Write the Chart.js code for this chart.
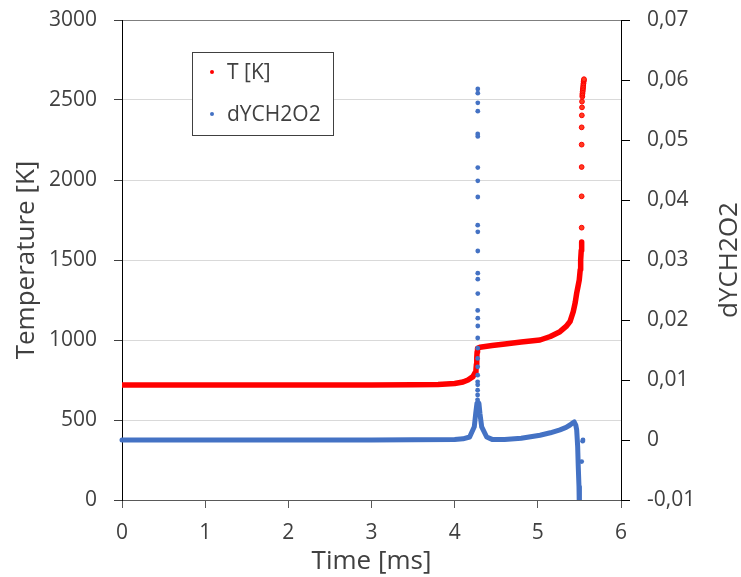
<!DOCTYPE html>
<html>
<head>
<meta charset="utf-8">
<script src="https://cdn.jsdelivr.net/npm/chart.js@4"></script>
<style>
  html, body { margin: 0; padding: 0; background: #fff; }
</style>
</head>
<body>
<canvas id="myChart" width="741" height="577"></canvas>
<script>
// DATA

// T [K], dense trajectory (drawn as a solid band)
const tempTime = [0, 1, 2, 3, 3.5, 3.8, 4.0, 4.1, 4.16, 4.22, 4.25, 4.256, 4.262, 4.266, 4.27, 4.275, 4.304, 4.45, 4.605, 4.8, 5.026, 5.15, 5.266, 5.34, 5.387, 5.426, 5.45, 5.467, 5.485, 5.498, 5.51, 5.515, 5.522, 5.527];
const tempK = [718, 718, 718, 719, 720, 722, 728, 737, 750, 771, 800, 812, 850, 890, 925, 948, 955, 965, 975, 987, 1000, 1022, 1052, 1085, 1115, 1177, 1235, 1292, 1340, 1375, 1440, 1500, 1560, 1613];

// T [K], separate markers during the runaway
const tempDotTime = [5.527, 5.527, 5.527, 5.527, 5.527, 5.529, 5.531, 5.531, 5.535, 5.535, 5.537, 5.539, 5.541, 5.543, 5.545, 5.547, 5.549, 5.551, 5.553, 5.555];
const tempDotK = [1702, 1898, 2081, 2221, 2329, 2404, 2454, 2490, 2521, 2532, 2542, 2553, 2563, 2573, 2583, 2594, 2604, 2615, 2622, 2630];

// dYCH2O2, dense trajectory
const dyTime = [0, 1, 2, 3, 4.0, 4.1, 4.18, 4.236, 4.253, 4.268, 4.28, 4.292, 4.304, 4.325, 4.385, 4.45, 4.6, 4.8, 5.026, 5.15, 5.266, 5.34, 5.387, 5.426, 5.438, 5.456, 5.467, 5.479, 5.486, 5.495, 5.498, 5.502];
const dyVal = [0, 0, 0, 0, 0.0001, 0.0002, 0.0005, 0.0022, 0.0044, 0.0061, 0.0063, 0.0061, 0.0044, 0.0022, 0.0005, 0.0001, 0.0001, 0.0003, 0.0008, 0.0012, 0.0017, 0.0021, 0.0025, 0.0029, 0.003, 0.0025, 0.0017, -0.0011, -0.0044, -0.0078, -0.01, -0.0125];

// dYCH2O2, separate markers (spike and end)
const dyDotTime = [4.278, 4.278, 4.278, 4.278, 4.277, 4.278, 4.278, 4.278, 4.278, 4.277, 4.278, 4.278, 4.278, 4.278, 4.278, 4.277, 4.278, 4.278, 4.277, 4.277, 4.276, 4.277, 4.277, 4.276, 4.277, 4.276, 4.276, 4.275, 5.527, 5.539, 5.543];
const dyDotVal = [0.0585, 0.0578, 0.0562, 0.0548, 0.051, 0.0506, 0.0454, 0.0432, 0.0405, 0.0358, 0.0347, 0.0315, 0.0278, 0.0268, 0.0244, 0.0216, 0.0203, 0.019, 0.017, 0.0153, 0.0136, 0.0122, 0.0108, 0.0097, 0.0092, 0.0083, 0.0075, 0.0067, -0.0036, -0.0002, 0];

const timeTicks = [0, 1, 2, 3, 4, 5, 6];
const tempTicks = [0, 500, 1000, 1500, 2000, 2500, 3000];
const dyTicks = [-0.01, 0, 0.01, 0.02, 0.03, 0.04, 0.05, 0.06, 0.07];

const RED = '#ff0000';
const BLUE = '#4472c4';
const TEXT = '#404040';

function pts(xs, ys) {
  return xs.map(function (x, i) { return { x: x, y: ys[i] }; });
}

function comma(v) {
  if (v === 0) return '0';
  return v.toFixed(2).replace('.', ',');
}

// fixed scale sizes so the plot area sits where the original one does
function fixSize(w, h) {
  return function (s) {
    if (w) s.width = w;
    if (h) s.height = h;
    s.paddingTop = 0;
    s.paddingBottom = 0;
    s.paddingLeft = 0;
    s.paddingRight = 0;
  };
}

Chart.defaults.font.family = "'Open Sans', sans-serif";
Chart.defaults.color = TEXT;

// legend box inside the plot + right axis title read bottom-to-top
const extras = {
  id: 'extras',
  afterDraw: function (chart) {
    const c = chart.ctx;
    c.save();
    c.fillStyle = '#fff';
    c.fillRect(192, 52, 141, 83);
    c.strokeStyle = '#404040';
    c.lineWidth = 1;
    c.strokeRect(192.5, 52.5, 141, 83);
    const rows = [
      { label: chart.data.datasets[3].label, color: RED, y: 73 },
      { label: chart.data.datasets[1].label, color: BLUE, y: 115 }
    ];
    c.font = "21px 'Open Sans'";
    c.textBaseline = 'middle';
    c.textAlign = 'left';
    rows.forEach(function (r) {
      c.fillStyle = r.color;
      c.beginPath();
      c.arc(212, r.y - 1, 2, 0, Math.PI * 2);
      c.fill();
      c.fillStyle = TEXT;
      c.fillText(r.label, 227, r.y);
    });
    c.translate(730, 260);
    c.rotate(-Math.PI / 2);
    c.textAlign = 'center';
    c.font = "26px 'Open Sans'";
    c.fillText('dYCH2O2', 0, 0);
    c.restore();
  }
};

const ctx = document.getElementById('myChart').getContext('2d');

const chart = new Chart(ctx, {
  type: 'scatter',
  data: {
    datasets: [
      {
        label: 'dYCH2O2 band',
        data: pts(dyTime, dyVal),
        yAxisID: 'y1',
        showLine: true,
        borderColor: BLUE,
        borderWidth: 5,
        borderJoinStyle: 'round',
        borderCapStyle: 'round',
        pointRadius: 0,
        clip: { left: 5, right: 5, top: 5, bottom: 0 }
      },
      {
        label: 'dYCH2O2',
        data: pts(dyDotTime, dyDotVal),
        yAxisID: 'y1',
        backgroundColor: BLUE,
        borderColor: BLUE,
        borderWidth: 0,
        pointRadius: 2.4
      },
      {
        label: 'T band',
        data: pts(tempTime, tempK),
        yAxisID: 'y',
        showLine: true,
        borderColor: RED,
        borderWidth: 5.5,
        borderJoinStyle: 'round',
        borderCapStyle: 'round',
        pointRadius: 0
      },
      {
        label: 'T [K]',
        data: pts(tempDotTime, tempDotK),
        yAxisID: 'y',
        backgroundColor: '#ff3b1f',
        borderColor: RED,
        borderWidth: 1,
        pointRadius: 2.4
      }
    ]
  },
  options: {
    responsive: false,
    animation: false,
    layout: { padding: { top: 20 } },
    plugins: {
      legend: { display: false },
      tooltip: { enabled: false }
    },
    scales: {
      x: {
        type: 'linear',
        min: 0,
        max: 6,
        afterBuildTicks: function (s) { s.ticks = timeTicks.map(function (v) { return { value: v }; }); },
        afterFit: fixSize(0, 77),
        grid: { drawOnChartArea: false, tickLength: 8, tickColor: '#595959' },
        border: { color: '#595959' },
        ticks: { font: { size: 21 }, padding: 12, maxRotation: 0, callback: function (v) { return String(v); } },
        title: { display: true, text: 'Time [ms]', font: { size: 26 }, padding: { top: 0, bottom: 0 } }
      },
      y: {
        position: 'left',
        min: 0,
        max: 3000,
        afterBuildTicks: function (s) { s.ticks = tempTicks.map(function (v) { return { value: v }; }); },
        afterFit: fixSize(122, 0),
        grid: {
          color: function (c) {
            if (c.tick && c.tick.value === 3000) return '#7f7f7f';
            if (c.tick && c.tick.value === 0) return '#595959';
            return '#d9d9d9';
          },
          tickLength: 8,
          tickColor: '#404040'
        },
        border: { color: '#000' },
        ticks: { font: { size: 21 }, padding: 17, callback: function (v) { return String(v); } },
        title: { display: true, text: 'Temperature [K]', font: { size: 26 }, padding: { top: 11, bottom: 0 } }
      },
      y1: {
        position: 'right',
        min: -0.01,
        max: 0.07,
        afterBuildTicks: function (s) { s.ticks = dyTicks.map(function (v) { return { value: v }; }); },
        afterFit: fixSize(120, 0),
        grid: { drawOnChartArea: false, tickLength: 9, tickColor: '#000' },
        border: { color: '#000' },
        ticks: { font: { size: 21 }, padding: 17, callback: comma }
      }
    }
  },
  plugins: [extras]
});
</script>
</body>
</html>
